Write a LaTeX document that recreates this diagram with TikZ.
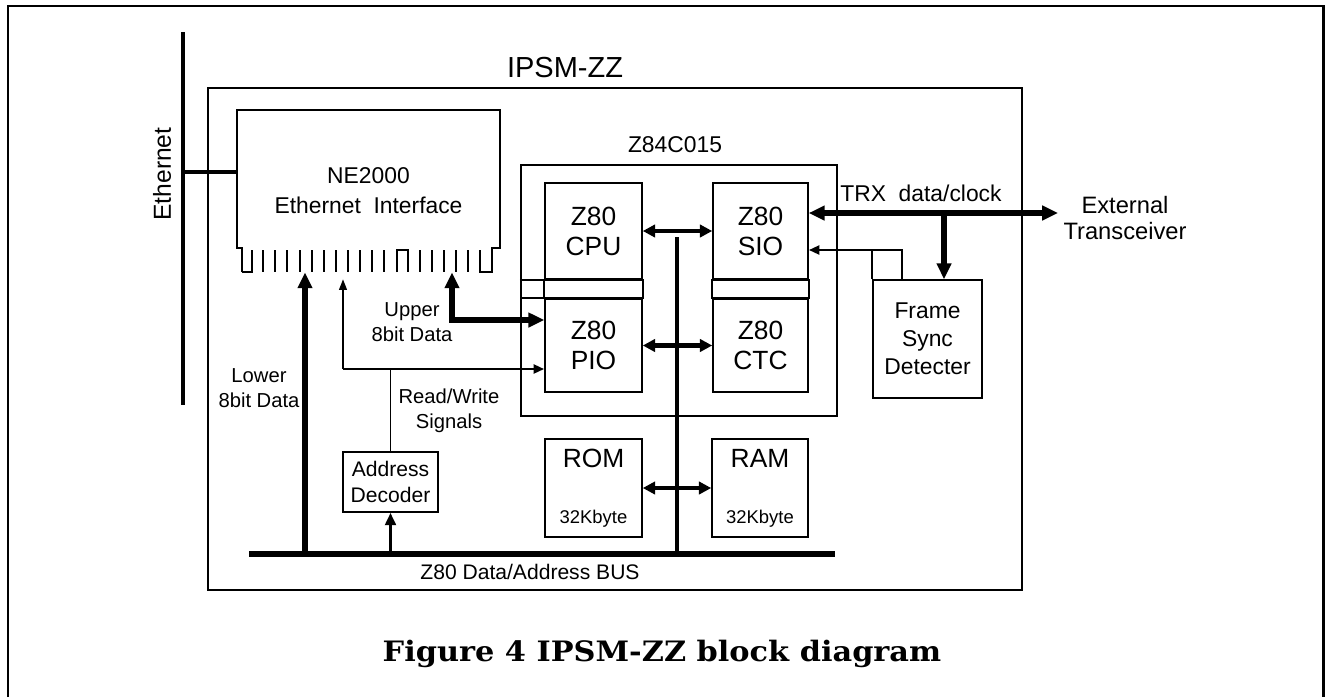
\documentclass[tikz,border=0pt]{standalone}
\usepackage{fontspec}
\usepackage{graphicx}
\setmainfont{Liberation Sans}
\newfontfamily\capfont{DejaVu Serif}
\usetikzlibrary{arrows.meta}

\begin{document}
\begin{tikzpicture}[x=0.02cm, y=-0.02cm,
    every node/.style={font=\fontsize{11.5}{14}\selectfont},
    blk/.style={draw, line width=0.9pt, inner sep=0pt, align=center, font=\fontsize{15}{17}\selectfont},
    mem/.style={blk, minimum height=1.96cm},
    lbl/.style={align=center, inner sep=0pt},
    bus/.style={line width=3.4pt},
    fat/.style={line width=3pt, -{Triangle[length=9pt,width=8pt]}},
    fatboth/.style={line width=3pt, {Triangle[length=9pt,width=8pt]}-{Triangle[length=9pt,width=8pt]}},
    dbl/.style={line width=2.4pt, {Triangle[length=7pt,width=7pt]}-{Triangle[length=7pt,width=7pt]}},
    sig/.style={line width=1.6pt, -{Triangle[length=6pt,width=5pt]}},
    thin/.style={line width=0.8pt, -{Triangle[length=6pt,width=4.5pt]}},
    wire/.style={line width=0.9pt}
  ]
  \useasboundingbox (0,0) rectangle (1328,697);
  % page frame
  \draw[line width=1.7pt] (8,697) -- (8,6) -- (1323,6) -- (1323,697);

  % board
  \draw[line width=1.2pt] (208,88) rectangle (1022,590);
  \node[font=\fontsize{16.5}{18}\selectfont] (board) at (565,68) {IPSM-ZZ};

  % ethernet cable
  \coordinate (ethT) at (183,32);
  \coordinate (ethB) at (183,405);
  \coordinate (ethJ) at (183,172);
  \draw[line width=2.8pt] (ethT) -- (ethB);
  \node[rotate=90, font=\fontsize{14}{16}\selectfont] (ethlbl) at (162,174) {Ethernet};

  % NE2000 card
  \node[lbl, minimum width=5.26cm, minimum height=3.24cm, font=\fontsize{13}{17}\selectfont] (ne) at (368.5,191) {NE2000\\Ethernet\ \ Interface};
  \draw[wire] (242,272) -- (242,248) -- (237,248) -- (237,110) -- (500,110) -- (500,248) -- (492,248) -- (492,272) -- (480,272) -- (480,250);
  \draw[wire] (242,272) -- (252,272) -- (252,250);
  \draw[wire] (397,272) -- (397,250) -- (408,250) -- (408,272);
  \foreach \fx in {263,275,287,300,312,324,336,348,360,372,384,420,432,444,456,468}
    \draw[wire] (\fx,250) -- (\fx,272);
  \draw[line width=2.2pt] (ethJ) -- (ethJ -| ne.west);

  % Z84C015
  \node[draw, line width=1.2pt, minimum width=6.32cm, minimum height=5.02cm] (z84) at (679,290.5) {};
  \node[font=\fontsize{13}{15}\selectfont] (z84lbl) at (675,145) {Z84C015};
  \node[blk, minimum width=1.94cm, minimum height=1.92cm] (cpu) at (593.5,231) {Z80\\CPU};
  \node[blk, minimum width=1.94cm, minimum height=1.86cm] (pio) at (593.5,345.5) {Z80\\PIO};
  \node[blk, minimum width=1.9cm, minimum height=1.92cm] (sio) at (760.5,231) {Z80\\SIO};
  \node[blk, minimum width=1.9cm, minimum height=1.86cm] (ctc) at (760.5,345.5) {Z80\\CTC};
  \draw[wire] (z84.west |- cpu.south) -- (cpu.south east) -- (pio.north east) -- (z84.west |- pio.north);
  \draw[wire] (cpu.south west) -- (pio.north west);
  \draw[wire] (sio.south west) rectangle (ctc.north east);

  % memory
  \node[mem, minimum width=1.94cm] (rom) at (593.5,488) {ROM\\[15pt]{\fontsize{10.5}{12}\selectfont 32Kbyte}};
  \node[mem, minimum width=1.92cm] (ram) at (760,488) {RAM\\[15pt]{\fontsize{10.5}{12}\selectfont 32Kbyte}};

  % address decoder
  \node[blk, minimum width=1.9cm, minimum height=1.2cm, font=\fontsize{12}{14.5}\selectfont] (dec) at (390.5,482) {Address\\Decoder};

  % frame sync
  \node[blk, minimum width=2.18cm, minimum height=2.36cm, font=\fontsize{13}{16}\selectfont] (fsd) at (927.5,339) {Frame\\Sync\\Detecter};

  % Z80 bus
  \coordinate (busL) at (249,554);
  \coordinate (busR) at (835,554);
  \coordinate (ibT) at (677,237);
  \draw[bus] (busL) -- (busR);
  \node[font=\fontsize{12}{14}\selectfont] (buslbl) at (530,572) {Z80 Data/Address BUS};
  \draw[line width=2.8pt] (ibT) -- (ibT |- busL);
  \draw[dbl] (cpu.east) -- (sio.west);
  \draw[dbl] (pio.east) -- (ctc.west);
  \draw[dbl] (rom.east) -- (ram.west);

  % to the NE2000
  \coordinate (lowJ) at (305,554);
  \coordinate (upJ) at (452,320);
  \coordinate (rwJ) at (343,369);
  \draw[fat] (lowJ) -- (lowJ |- ne.south);
  \node[lbl] (lowlbl) at (259,388) {Lower\\8bit Data};
  \draw[fatboth] (upJ |- ne.south) -- (upJ) -- (upJ -| pio.west);
  \node[lbl] (uplbl) at (412,322) {Upper\\8bit Data};
  \draw[thin] (rwJ) -- ([yshift=-4pt]rwJ |- ne.south);
  \draw[sig] (rwJ) -- (rwJ -| pio.west);
  \draw[wire] (dec.north) -- (dec.north |- rwJ);
  \node[lbl, font=\fontsize{11.5}{14}\selectfont] (rwlbl) at (449,411) {Read/Write\\Signals};
  \draw[line width=1.8pt, -{Triangle[length=7pt,width=6pt]}] (dec.south |- busL) -- (dec.south);

  % transceiver side
  \coordinate (ext) at (1058,213);
  \coordinate (trxJ) at (944,213);
  \coordinate (syn) at (902,250);
  \draw[fatboth] (sio.east |- ext) -- (ext);
  \node[lbl, anchor=west, font=\fontsize{13}{15}\selectfont] (trx) at (840,193) {TRX\ \ data/clock};
  \node[lbl, font=\fontsize{13.5}{14.5}\selectfont] (xcvr) at (1125,218) {External\\Transceiver};
  \draw[fat] (trxJ) -- (trxJ |- fsd.north);
  \draw[sig] (syn |- fsd.north) -- (syn) -- (syn -| sio.east);
  \draw[wire] (fsd.north west) -- (fsd.north west |- syn);

  % caption
  \node (cap) at (662,654) {\scalebox{1.08}[1]{\capfont\bfseries\fontsize{16}{18}\selectfont Figure 4 IPSM-ZZ block diagram}};
\end{tikzpicture}
\end{document}
